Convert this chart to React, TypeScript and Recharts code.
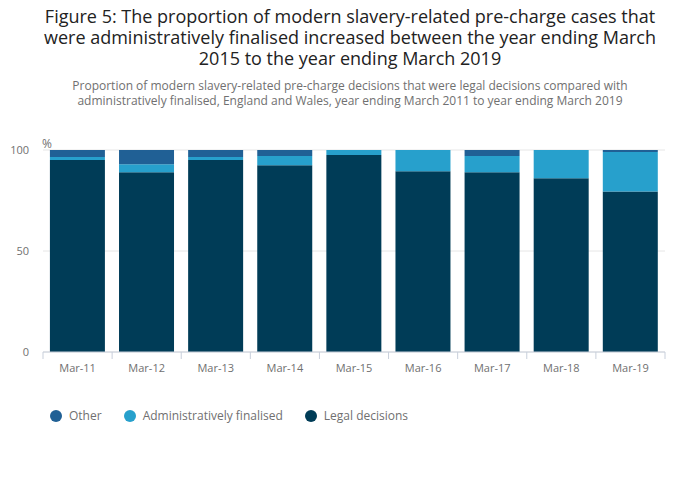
import React from "react";
import { BarChart, Bar, XAxis, YAxis, CartesianGrid } from "recharts";

const categories = ["Mar-11", "Mar-12", "Mar-13", "Mar-14", "Mar-15", "Mar-16", "Mar-17", "Mar-18", "Mar-19"];
const legalDecisions = [95, 89, 95, 92.5, 97.5, 89.5, 89, 86, 79.5];
const adminFinalised = [1.5, 4, 1.5, 4.5, 2.5, 10.5, 8, 14, 19.5];
const other = [3.5, 7, 3.5, 3, 0, 0, 3, 0, 1];
const yTicks = [0, 50, 100];

const series = [
  { key: "other", name: "Other", color: "#206095" },
  { key: "admin", name: "Administratively finalised", color: "#27a0cc" },
  { key: "legal", name: "Legal decisions", color: "#003c57" },
];

const data = categories.map((cat, i) => ({
  cat,
  legal: legalDecisions[i],
  admin: adminFinalised[i],
  other: other[i],
}));

const FONT = "'Open Sans', sans-serif";

// category labels sit mid-band, tick marks on the band edges
function CategoryTick(props: any) {
  const { x, y, payload, index } = props;
  const half = payload && payload.offset ? payload.offset : 34.7;
  return (
    <g>
      <line x1={x - half} y1={y - 8} x2={x - half} y2={y - 1} stroke="#c8cfdb" />
      {index === categories.length - 1 && (
        <line x1={x + half} y1={y - 8} x2={x + half} y2={y - 1} stroke="#c8cfdb" />
      )}
      <text x={x} y={y + 12} textAnchor="middle" fill="#707070" fontSize={11} fontFamily={FONT}>
        {payload.value}
      </text>
    </g>
  );
}

export default function App() {
  return (
    <div style={{ position: "absolute", left: 0, top: 0, width: 700, height: 502, background: "#fff", fontFamily: FONT }}>
      <div style={{ position: "absolute", top: 6, left: 40, width: 620, textAlign: "center", fontSize: 18, lineHeight: "21px", color: "#222" }}>
        Figure 5: The proportion of modern slavery-related pre-charge cases that were administratively finalised increased between the year ending March 2015 to the year ending March 2019
      </div>
      <div style={{ position: "absolute", top: 78, left: 67, width: 566, textAlign: "center", fontSize: 12, lineHeight: "15px", color: "#707070" }}>
        Proportion of modern slavery-related pre-charge decisions that were legal decisions compared with administratively finalised, England and Wales, year ending March 2011 to year ending March 2019
      </div>
      <div style={{ position: "absolute", top: 135, left: 42, fontSize: 12, color: "#707070" }}>%</div>
      <div style={{ position: "absolute", top: 120, left: 0 }}>
        <BarChart
          width={700}
          height={270}
          data={data}
          margin={{ top: 30, right: 35, bottom: 0, left: 0 }}
          barCategoryGap="10%"
        >
          <CartesianGrid vertical={false} stroke="#e6e6e6" />
          <YAxis
            domain={[0, 100]}
            ticks={yTicks}
            width={43}
            axisLine={false}
            tickLine={false}
            tickSize={0}
            tickMargin={14}
            tick={{ fill: "#707070", fontSize: 11, fontFamily: FONT }}
          />
          <XAxis
            dataKey="cat"
            height={38}
            axisLine={{ stroke: "#c8cfdb" }}
            tickLine={false}
            tick={<CategoryTick />}
            interval={0}
          />
          <Bar dataKey="legal" stackId="a" fill="#003c57" name="Legal decisions" isAnimationActive={false} />
          <Bar dataKey="admin" stackId="a" fill="#27a0cc" name="Administratively finalised" isAnimationActive={false} />
          <Bar dataKey="other" stackId="a" fill="#206095" name="Other" isAnimationActive={false} />
        </BarChart>
      </div>
      <div style={{ position: "absolute", top: 407, left: 50, display: "flex", alignItems: "center", fontSize: 12, color: "#707070" }}>
        {series.map((s) => (
          <div key={s.key} style={{ display: "flex", alignItems: "center", marginRight: 22 }}>
            <span style={{ width: 12, height: 12, borderRadius: 6, background: s.color, display: "inline-block", marginRight: 7 }} />
            <span>{s.name}</span>
          </div>
        ))}
      </div>
    </div>
  );
}
